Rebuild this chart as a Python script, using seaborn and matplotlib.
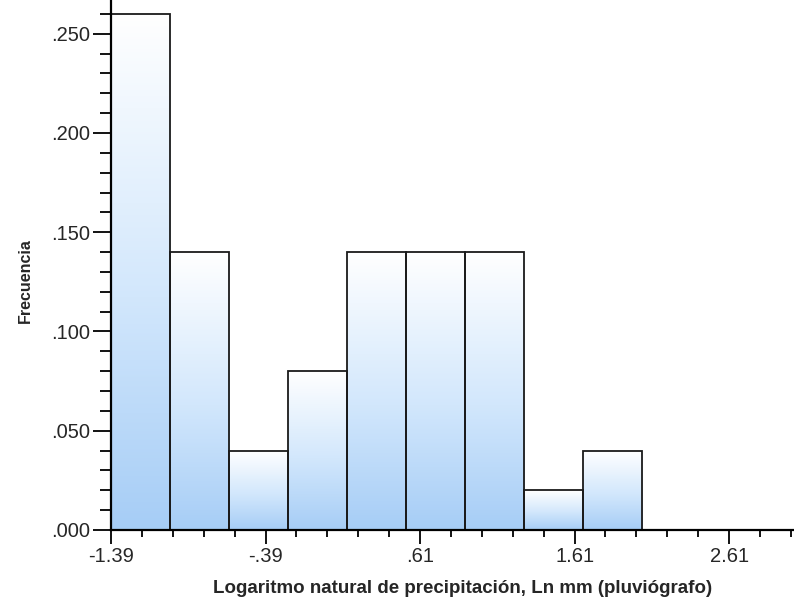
import numpy as np
import pandas as pd
import matplotlib
matplotlib.use("Agg")
import matplotlib.pyplot as plt
from matplotlib.colors import LinearSegmentedColormap
from matplotlib.ticker import MultipleLocator, FuncFormatter
import seaborn as sns

# Datos (frecuencia relativa por clase)
bin_start = -1.39
bin_width = 0.382
bin_centers = [-1.199, -0.817, -0.435, -0.053, 0.329, 0.711, 1.093, 1.475, 1.857]
frequencies = [0.26, 0.14, 0.04, 0.08, 0.14, 0.14, 0.14, 0.02, 0.04]
x_ticks = [-1.39, -0.39, 0.61, 1.61, 2.61]

sns.set_style("ticks")
plt.rcParams["font.family"] = ["Liberation Sans", "DejaVu Sans"]

fig = plt.figure(figsize=(7.94, 6.05), dpi=100)
ax = fig.add_axes([0.1398, 0.124, 0.8602, 0.876])

df = pd.DataFrame({"x": bin_centers, "f": frequencies})
n_bins = len(frequencies)
sns.histplot(data=df, x="x", weights="f", binwidth=bin_width,
             binrange=(bin_start, bin_start + n_bins * bin_width),
             stat="count", fill=True, facecolor="none", edgecolor="#1a1a1a",
             linewidth=1.3, ax=ax)

# Degradado blanco (arriba) -> azul claro (abajo) dentro de cada barra
cmap = LinearSegmentedColormap.from_list(
    "grad", [(0.0, "#a6cdf6"), (0.45, "#d2e7fc"), (1.0, "#ffffff")])
grad = np.linspace(0, 1, 256).reshape(-1, 1)
for p in ax.patches:
    x0, y0 = p.get_x(), p.get_y()
    w, h = p.get_width(), p.get_height()
    if h <= 0:
        continue
    im = ax.imshow(grad, cmap=cmap, origin="lower", aspect="auto",
                   extent=[x0, x0 + w, y0, y0 + h], zorder=p.get_zorder() - 0.1)
    im.set_clip_path(p)

ax.set_xlim(-1.39, 3.03)
ax.set_ylim(0, 0.267)

ax.set_xticks(x_ticks)
ax.set_xticks(bin_start + 0.2 * np.arange(23), minor=True)
ax.yaxis.set_major_locator(MultipleLocator(0.05))
ax.yaxis.set_minor_locator(MultipleLocator(0.01))


def no_lead_zero(v, dec):
    s = f"{v:.{dec}f}"
    if s.startswith("-0."):
        return "-" + s[2:]
    if s.startswith("0."):
        return s[1:]
    return s


ax.xaxis.set_major_formatter(FuncFormatter(lambda v, p: no_lead_zero(v, 2)))
ax.yaxis.set_major_formatter(FuncFormatter(lambda v, p: no_lead_zero(v, 3)))

ax.tick_params(axis="y", which="major", length=13, width=1.3, labelsize=14.5,
               pad=2, color="black")
ax.tick_params(axis="y", which="minor", length=8, width=1.3, color="black")
ax.tick_params(axis="x", which="major", length=10, width=1.3, labelsize=14.5,
               pad=2, color="black")
ax.tick_params(axis="x", which="minor", length=5, width=1.3, color="black")

for side in ["top", "right"]:
    ax.spines[side].set_visible(False)
for side in ["left", "bottom"]:
    ax.spines[side].set_linewidth(1.6)
    ax.spines[side].set_color("black")

ax.set_xlabel("Logaritmo natural de precipitación, Ln mm (pluviógrafo)",
              fontsize=13.5, fontweight="bold")
ax.set_ylabel("Frecuencia", fontsize=11.5, fontweight="bold")
ax.xaxis.set_label_coords(0.515, -0.094)
ax.yaxis.set_label_coords(-0.114, 0.470)

fig.savefig("out.png", dpi=100)
